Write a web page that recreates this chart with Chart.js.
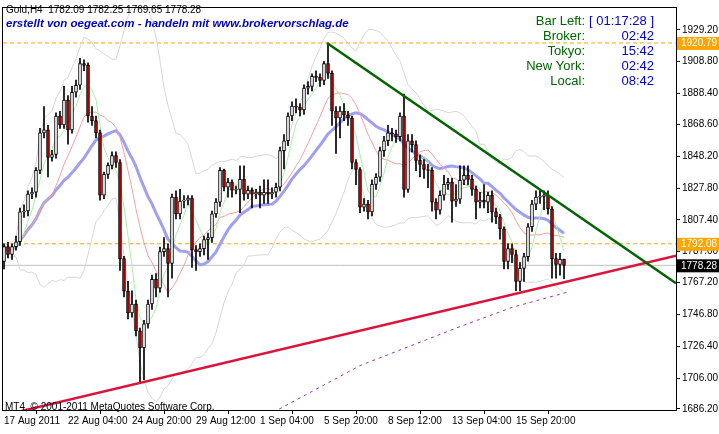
<!DOCTYPE html>
<html>
<head>
<meta charset="utf-8">
<script src="https://cdn.jsdelivr.net/npm/chart.js@4.4.0/dist/chart.umd.min.js"></script>
<style>
  html, body { margin: 0; padding: 0; background: #fff; }
  #wrap { width: 719px; height: 434px; }
</style>
</head>
<body>
<div id="wrap"><canvas id="chart" width="719" height="434"></canvas></div>
<script>
// Gold H4, 141 bars (17 Aug - 16 Sep 2011)
const opens = [1780.7,1790.3,1785.2,1790.3,1793.4,1812.5,1813.1,1823.9,1825.1,1839.1,1863.2,1865.1,1847.4,1849.3,1874.0,1868.3,1884.2,1865.1,1889.2,1893.7,1907.6,1906.4,1874.0,1871.0,1863.2,1823.2,1836.6,1842.3,1848.6,1844.2,1782.6,1761.7,1747.7,1753.5,1736.3,1725.5,1740.8,1753.5,1769.3,1763.6,1787.1,1789.0,1779.5,1822.0,1811.2,1819.4,1820.1,1821.3,1788.3,1787.1,1789.0,1794.7,1796.0,1811.2,1818.8,1839.1,1828.3,1831.5,1826.4,1827.0,1833.4,1823.9,1826.4,1823.9,1825.1,1823.2,1825.1,1823.9,1825.1,1828.3,1851.8,1858.1,1874.0,1880.3,1879.7,1877.8,1891.8,1893.0,1899.4,1898.7,1896.8,1907.6,1901.3,1877.2,1872.7,1877.2,1874.6,1872.7,1844.2,1839.7,1815.6,1817.5,1812.5,1830.2,1834.7,1851.8,1858.1,1863.2,1862.6,1860.7,1874.0,1827.0,1858.1,1855.6,1845.5,1842.9,1839.7,1839.1,1818.8,1813.7,1823.2,1830.2,1831.5,1819.4,1820.7,1832.8,1835.9,1833.4,1827.0,1818.8,1820.1,1818.8,1823.2,1812.5,1809.3,1801.7,1780.7,1789.0,1785.2,1768.0,1776.3,1783.9,1803.0,1817.5,1822.0,1822.5,1823.2,1814.4,1782.6,1778.8,1782.09];
const closes = [1790.3,1785.2,1790.3,1793.4,1812.5,1813.1,1823.9,1825.1,1839.1,1863.2,1865.1,1847.4,1849.3,1874.0,1868.3,1884.2,1865.1,1889.2,1893.7,1907.6,1906.4,1874.0,1871.0,1863.2,1823.2,1836.6,1842.3,1848.6,1844.2,1782.6,1761.7,1747.7,1753.5,1736.3,1725.5,1740.8,1753.5,1769.3,1763.6,1787.1,1789.0,1779.5,1822.0,1811.2,1819.4,1820.1,1821.3,1788.3,1787.1,1789.0,1794.7,1796.0,1811.2,1818.8,1839.1,1828.3,1831.5,1826.4,1827.0,1833.4,1823.9,1826.4,1823.9,1825.1,1823.2,1825.1,1823.9,1825.1,1828.3,1851.8,1858.1,1874.0,1880.3,1879.7,1877.8,1891.8,1893.0,1899.4,1898.7,1896.8,1907.6,1901.3,1877.2,1872.7,1877.2,1874.6,1872.7,1844.2,1839.7,1815.6,1817.5,1812.5,1830.2,1834.7,1851.8,1858.1,1863.2,1862.6,1860.7,1874.0,1827.0,1858.1,1855.6,1845.5,1842.9,1839.7,1839.1,1818.8,1813.7,1823.2,1830.2,1831.5,1819.4,1820.7,1832.8,1835.9,1833.4,1827.0,1818.8,1820.1,1818.8,1823.2,1812.5,1809.3,1801.7,1780.7,1789.0,1785.2,1768.0,1776.3,1783.9,1803.0,1817.5,1822.0,1822.5,1823.2,1814.4,1782.6,1778.8,1782.09,1778.28];
const highs = [1792,1793,1792,1797,1815,1817,1826,1828,1841,1866,1880,1868,1852,1876,1877,1893,1887,1893,1897,1911,1910,1908,1880,1874,1865,1838,1844,1851,1851,1846,1784,1768,1762,1756,1738,1743,1756,1772,1773,1790,1796,1792,1824,1826,1827,1823,1823,1823,1791,1792,1797,1799,1813,1821,1841,1840,1834,1833,1829,1842,1842,1829,1828,1827,1829,1833,1833,1828,1831,1854,1862,1876,1883,1885,1882,1894,1896,1901,1903,1901,1909,1920.79,1903,1880,1880,1882,1877,1874,1846,1841,1821,1820,1833,1837,1854,1861,1868,1866,1865,1876,1888,1862,1862,1858,1849,1846,1843,1841,1821,1826,1836,1834,1834,1830,1842,1842,1842,1836,1829,1825,1830,1825,1826,1815,1811,1803,1792,1792,1788,1780,1786,1805,1820,1826,1827,1826,1826,1816,1786,1786,1782.25];
const lows = [1776,1783,1782,1788,1791,1809,1810,1821,1822,1837,1860,1835,1845,1847,1866,1866,1856,1863,1886,1891,1903,1870,1868,1860,1820,1821,1834,1840,1841,1775,1758,1744,1745,1733,1703,1705,1738,1750,1758,1761,1784,1758,1770,1808,1808,1815,1817,1777,1775,1784,1785,1782,1793,1809,1816,1826,1822,1822,1824,1812,1820,1821,1815,1821,1815,1818,1818,1821,1822,1826,1840,1855,1871,1876,1874,1875,1888,1890,1896,1893,1894,1898,1868,1850,1860,1871,1868,1840,1830,1812,1813,1808,1810,1827,1832,1848,1855,1858,1857,1858,1822,1825,1851,1839,1835,1834,1828,1813,1808,1811,1820,1827,1806,1816,1818,1830,1830,1823,1808,1815,1815,1812,1806,1805,1795,1776,1776,1780,1762,1762,1768,1781,1800,1814,1818,1814,1811,1770,1770,1772,1769.65];

const xTickIdx = [0, 16, 32, 48, 64, 80, 96, 112, 128];
const xTickLabels = ["17 Aug 2011","22 Aug 04:00","24 Aug 20:00","29 Aug 12:00","1 Sep 04:00","5 Sep 20:00","8 Sep 12:00","13 Sep 04:00","15 Sep 20:00"];
const yTicks = [1929.20,1908.80,1888.40,1868.60,1848.20,1827.80,1807.40,1787.00,1767.20,1746.80,1726.40,1706.00,1686.20];

// trend lines and levels
const greenTrend = [{x: 80.75, y: 1920.79}, {x: 168, y: 1766.8}];
const redTrend = [{x: 2.25, y: 1683.6}, {x: 168, y: 1784.4}];
const purpleLine = [{x: 67.25, y: 1684}, {x: 89, y: 1714}, {x: 114, y: 1739}, {x: 127.25, y: 1751.5}, {x: 140.75, y: 1761}];
const levelHigh = 1920.79;
const levelMid = 1792.08;
const lastPrice = 1778.28;

const X_MIN = -0.25, X_MAX = 168;
const FONT = "'Liberation Sans'";

function sma(arr, n) {
  return arr.map((_, i) => {
    const s = arr.slice(Math.max(0, i - n + 1), i + 1);
    return s.reduce((a, b) => a + b, 0) / s.length;
  });
}
function bands(arr, n, k) {
  const m = sma(arr, n);
  const up = [], dn = [];
  arr.forEach((_, i) => {
    const s = arr.slice(Math.max(0, i - n + 1), i + 1);
    const sd = Math.sqrt(s.reduce((a, b) => a + (b - m[i]) ** 2, 0) / s.length);
    up.push(m[i] + k * sd); dn.push(m[i] - k * sd);
  });
  return { up, dn };
}
const pts = (arr) => arr.map((y, i) => ({ x: i, y }));
const hline = (y) => [{ x: X_MIN, y }, { x: X_MAX, y }];

const ma5 = sma(closes, 5), ma13 = sma(closes, 13), ma21 = sma(closes, 21);
const bb = bands(closes, 20, 2);

const bodies = opens.map((o, i) => ({ x: i, y: [Math.min(o, closes[i]), Math.max(o, closes[i])] }));
const bodyColors = opens.map((o, i) => closes[i] >= o ? "#ffffff" : "#cc0000");
const wicks = lows.map((l, i) => ({ x: i, y: [l, highs[i]] }));

const lineDs = (data, color, width, order, dash) => ({
  type: "line", data, borderColor: color, borderWidth: width, pointRadius: 0,
  tension: 0, order, borderDash: dash || [], fill: false
});

const overlay = {
  id: "overlay",
  afterDraw(chart) {
    const { ctx, chartArea: a, scales: { y } } = chart;
    ctx.save();
    ctx.strokeStyle = "#000"; ctx.lineWidth = 1;
    ctx.strokeRect(a.left - 0.5, a.top - 0.5, a.right - a.left + 1, a.bottom - a.top + 1);

    ctx.textBaseline = "middle";
    ctx.fillStyle = "#000"; ctx.font = "10px " + FONT; ctx.textAlign = "left";
    ctx.fillText("Gold,H4  1782.09 1782.25 1769.65 1778.28", 6, 10);
    ctx.fillStyle = "#0000c8"; ctx.font = "bold italic 11.5px " + FONT;
    ctx.fillText("erstellt von oegeat.com - handeln mit www.brokervorschlag.de", 6, 24);
    ctx.fillStyle = "#000"; ctx.font = "10px " + FONT;
    ctx.fillText("MT4, \u00a9 2001-2011 MetaQuotes Software Corp.", 5, 407);

    const rows = [["Bar Left:", "[ 01:17:28 ]"], ["Broker:", "02:42"], ["Tokyo:", "15:42"], ["New York:", "02:42"], ["Local:", "08:42"]];
    ctx.font = "13px " + FONT;
    rows.forEach((r, i) => {
      const yy = 21 + i * 15;
      ctx.textAlign = "right"; ctx.fillStyle = "#006400";
      ctx.fillText(r[0], 585, yy);
      ctx.fillStyle = "#0000d0";
      ctx.fillText(r[1], 654, yy);
    });

    // price labels on the right axis
    const tag = (v, bg, fg) => {
      const py = y.getPixelForValue(v);
      ctx.fillStyle = bg; ctx.fillRect(a.right + 1, py - 6, 719 - a.right - 1, 13);
      ctx.fillStyle = fg; ctx.font = "10px " + FONT; ctx.textAlign = "left";
      ctx.fillText(v.toFixed(2), a.right + 5, py + 0.5);
    };
    tag(levelHigh, "#ffa500", "#fff");
    tag(levelMid, "#ffa500", "#fff");
    tag(lastPrice, "#000", "#fff");
    ctx.restore();
  }
};

new Chart(document.getElementById("chart"), {
  type: "bar",
  data: {
    datasets: [
      lineDs(greenTrend, "#006400", 2.5, 0),
      lineDs(redTrend, "#dc143c", 2.5, 0),
      { type: "bar", data: bodies, backgroundColor: bodyColors, borderColor: "#000", borderWidth: 1,
        borderSkipped: false, barThickness: 3, grouped: false, order: 1 },
      { type: "bar", data: wicks, backgroundColor: "#000", borderWidth: 0,
        barThickness: 1, grouped: false, order: 2 },
      lineDs(pts(ma5), "#a8f0a8", 1, 3),
      lineDs(pts(ma13), "#f4a0a0", 1, 3),
      lineDs(pts(ma21), "#a0a0f0", 3, 3),
      lineDs(pts(bb.up), "#d8d8d8", 1, 4),
      lineDs(pts(bb.dn), "#d8d8d8", 1, 4),
      lineDs(purpleLine, "#9932cc", 1, 4, [3, 4]),
      lineDs(hline(levelHigh), "#ffa500", 1, 5, [4, 3]),
      lineDs(hline(levelMid), "#ffa500", 1, 5, [4, 3]),
      lineDs(hline(lastPrice), "#c0c0c0", 1, 5)
    ]
  },
  options: {
    responsive: false, animation: false,
    layout: { padding: { left: 3, top: 4, right: 0, bottom: 0 } },
    plugins: { legend: { display: false }, tooltip: { enabled: false } },
    scales: {
      x: {
        type: "linear", min: X_MIN, max: X_MAX, offset: false,
        grid: { drawOnChartArea: false, drawTicks: true, tickLength: 4, color: "#000" },
        border: { display: false },
        afterBuildTicks: (s) => { s.ticks = xTickIdx.map(v => ({ value: v })); },
        afterFit: (s) => { s.height = 24; },
        ticks: {
          autoSkip: false, maxRotation: 0, align: "start", padding: 1, color: "#000",
          font: { family: "Liberation Sans", size: 10 },
          callback: (v) => xTickLabels[xTickIdx.indexOf(v)]
        }
      },
      y: {
        position: "right", min: 1685.55, max: 1943.2,
        grid: { drawOnChartArea: false, drawTicks: true, tickLength: 4, color: "#000" },
        border: { display: false },
        afterBuildTicks: (s) => { s.ticks = yTicks.map(v => ({ value: v })); },
        afterFit: (s) => { s.width = 43; },
        ticks: {
          padding: 2, color: "#000", font: { family: "Liberation Sans", size: 10 },
          callback: (v) => v.toFixed(2)
        }
      }
    }
  },
  plugins: [overlay]
});
</script>
</body>
</html>
